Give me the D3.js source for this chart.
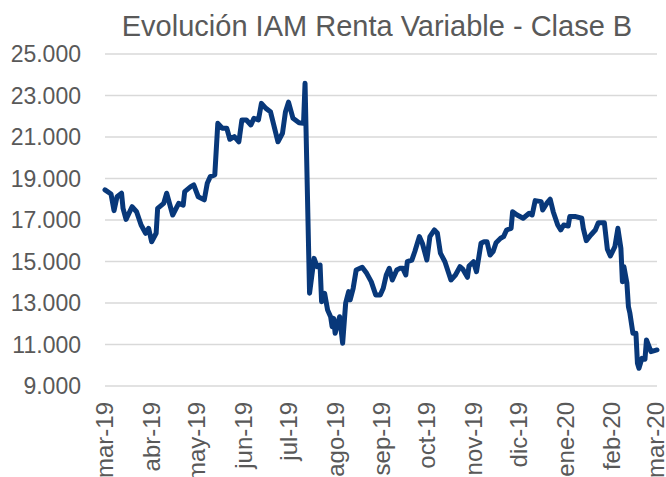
<!DOCTYPE html>
<html>
<head>
<meta charset="utf-8">
<script src="https://cdn.jsdelivr.net/npm/d3@7"></script>
<style>
   body { margin: 0; background: #fff; }
   svg { display: block; font-family: "Liberation Sans", Arial, sans-serif; }
</style>
</head>
<body>
<svg id="chart" width="666" height="477"></svg>
<script>
// Values
var title = "Evolución IAM Renta Variable - Clase B";

var dates = [
   "2019-03-01","2019-03-05","2019-03-07","2019-03-09","2019-03-12","2019-03-13","2019-03-15","2019-03-19",
   "2019-03-22","2019-03-25","2019-03-28","2019-03-30","2019-04-01","2019-04-04","2019-04-05","2019-04-09",
   "2019-04-11","2019-04-15","2019-04-19","2019-04-22","2019-04-23","2019-04-27","2019-04-29","2019-05-02",
   "2019-05-06","2019-05-08","2019-05-10","2019-05-13","2019-05-15","2019-05-18","2019-05-21","2019-05-23",
   "2019-05-26","2019-05-29","2019-05-31","2019-06-03","2019-06-06","2019-06-08","2019-06-11","2019-06-13",
   "2019-06-16","2019-06-19","2019-06-24","2019-06-27","2019-06-29","2019-07-01","2019-07-04","2019-07-08",
   "2019-07-11","2019-07-12","2019-07-15","2019-07-18","2019-07-20","2019-07-22","2019-07-23","2019-07-25",
   "2019-07-27","2019-07-29","2019-07-30","2019-07-31","2019-08-01","2019-08-04","2019-08-06","2019-08-08",
   "2019-08-10","2019-08-11","2019-08-13","2019-08-15","2019-08-19","2019-08-22","2019-08-25","2019-08-28",
   "2019-08-31","2019-09-02","2019-09-04","2019-09-06","2019-09-08","2019-09-11","2019-09-13","2019-09-15",
   "2019-09-17","2019-09-18","2019-09-21","2019-09-23","2019-09-24","2019-09-26","2019-09-28","2019-10-01",
   "2019-10-03","2019-10-06","2019-10-08","2019-10-10","2019-10-13","2019-10-17","2019-10-20","2019-10-23",
   "2019-10-25","2019-10-28","2019-10-29","2019-11-01","2019-11-03","2019-11-06","2019-11-08","2019-11-10",
   "2019-11-12","2019-11-14","2019-11-16","2019-11-19","2019-11-21","2019-11-23","2019-11-26","2019-11-27",
   "2019-11-30","2019-12-04","2019-12-08","2019-12-10","2019-12-12","2019-12-16","2019-12-17","2019-12-20",
   "2019-12-22","2019-12-24","2019-12-27","2019-12-29","2019-12-31","2020-01-03","2020-01-04","2020-01-08",
   "2020-01-12","2020-01-13","2020-01-15","2020-01-18","2020-01-21","2020-01-23","2020-01-27","2020-01-29",
   "2020-01-31","2020-02-03","2020-02-05","2020-02-07","2020-02-08","2020-02-09","2020-02-11","2020-02-12",
   "2020-02-13","2020-02-15","2020-02-17","2020-02-18","2020-02-19","2020-02-21","2020-02-23","2020-02-24",
   "2020-02-27","2020-03-02"
];

var values = [
   18450,18250,17450,18120,18290,17560,17030,17640,
   17400,16760,16360,16600,15950,16360,17560,17800,
   18290,17240,17800,17720,18370,18610,18690,18120,
   17970,18770,19090,19170,21660,21420,21420,20890,
   21015,20770,21820,21820,21580,21900,21820,22620,
   22380,22220,20770,21180,22220,22680,21900,21690,
   21660,23590,13470,15150,14750,14830,13060,13470,
   12660,12340,11860,12260,11540,12340,11060,12990,
   13550,13150,13710,14590,14720,14430,14030,13390,
   13390,13710,14350,14670,14110,14590,14670,14670,
   14350,14990,15070,15480,15720,16200,15880,15070,
   16200,16520,16360,15400,14990,14110,14350,14750,
   14620,14240,14780,14990,14510,15880,15955,15955,
   15315,15475,15907,16118,16198,16519,16600,17400,
   17242,17083,17323,17242,17933,17885,17484,17837,
   18000,17400,16760,16519,16760,16712,17163,17163,
   17083,16600,16003,16278,16519,16871,16871,15588,
   15266,15716,16600,15636,14028,14750,13950,12824,
   12503,11540,11540,10095,9855,10336,10288,11218,
   10657,10737
];

var yTicks = [9000, 11000, 13000, 15000, 17000, 19000, 21000, 23000, 25000];
var monthTicks = ["2019-03-01","2019-04-01","2019-05-01","2019-06-01","2019-07-01","2019-08-01",
                  "2019-09-01","2019-10-01","2019-11-01","2019-12-01","2020-01-01","2020-02-01","2020-03-01"];
var monthLabels = ["mar-19","abr-19","may-19","jun-19","jul-19","ago-19","sep-19",
                   "oct-19","nov-19","dic-19","ene-20","feb-20","mar-20"];

var parse = d3.timeParse("%Y-%m-%d");
var svg = d3.select("#chart");

var x = d3.scaleTime()
   .domain([parse("2019-03-01"), parse("2020-03-02")])
   .range([105, 657]);

var y = d3.scaleLinear()
   .domain([9000, 25000])
   .range([386, 54]);

// gridlines
svg.append("g")
   .selectAll("line")
   .data(yTicks)
   .enter().append("line")
      .attr("x1", 105)
      .attr("x2", 657)
      .attr("y1", function(d){ return y(d); })
      .attr("y2", function(d){ return y(d); })
      .style("stroke", "#d9d9d9")
      .style("stroke-width", 1.5);

// y labels, Spanish thousands separator
var fmt = d3.formatLocale({decimal: ",", thousands: ".", grouping: [3], currency: ["", "€"]}).format(",d");
svg.append("g")
   .selectAll("text")
   .data(yTicks)
   .enter().append("text")
      .attr("x", 81)
      .attr("y", function(d){ return y(d); })
      .attr("dy", "0.35em")
      .attr("text-anchor", "end")
      .style("font-size", "23px")
      .style("fill", "#595959")
      .text(function(d){ return fmt(d); });

// x labels, rotated
svg.append("g")
   .selectAll("text")
   .data(monthTicks)
   .enter().append("text")
      .attr("transform", function(d){ return "translate(" + x(parse(d)) + ",402) rotate(-90)"; })
      .attr("dy", "0.35em")
      .attr("text-anchor", "end")
      .style("font-size", "24px")
      .style("fill", "#595959")
      .text(function(d, i){ return monthLabels[i]; });

// title
svg.append("text")
   .attr("x", 377)
   .attr("y", 36)
   .attr("text-anchor", "middle")
   .style("font-size", "29px")
   .style("fill", "#595959")
   .text(title);

// the line
var line = d3.line()
   .x(function(d, i){ return x(parse(dates[i])); })
   .y(function(d){ return y(d); });

svg.append("path")
   .datum(values)
   .attr("d", line)
   .style("fill", "none")
   .style("stroke", "#08387a")
   .style("stroke-width", 5)
   .style("stroke-linejoin", "round")
   .style("stroke-linecap", "round");
</script>
</body>
</html>
